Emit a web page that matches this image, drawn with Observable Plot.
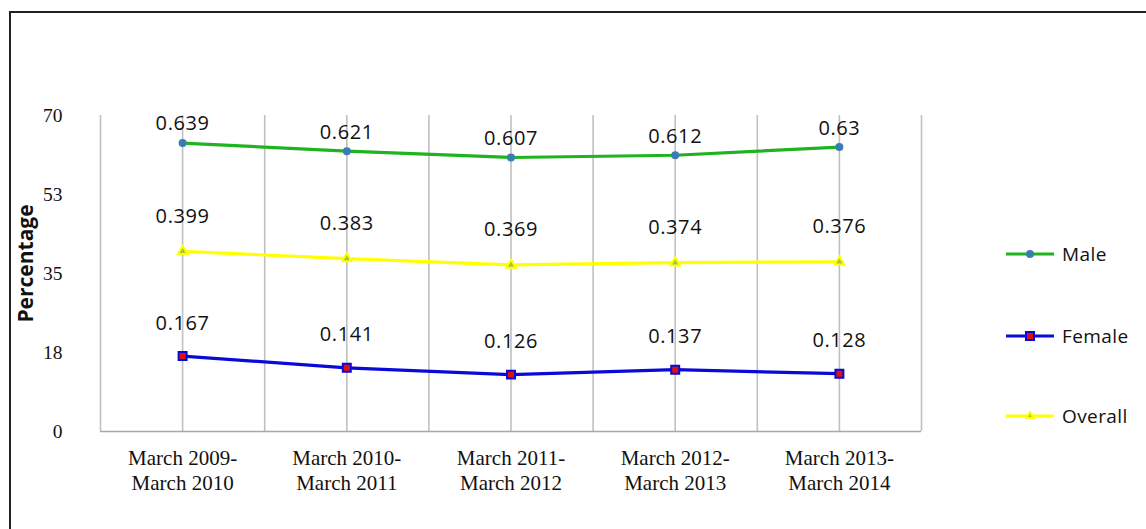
<!DOCTYPE html>
<html>
<head>
<meta charset="utf-8">
<script src="https://cdn.jsdelivr.net/npm/d3@7"></script>
<script src="https://cdn.jsdelivr.net/npm/@observablehq/plot@0.6"></script>
<style>
  html, body { margin: 0; padding: 0; background: #fff; }
  #wrap { position: relative; width: 1146px; height: 529px; overflow: hidden; }
  #frame { position: absolute; left: 9px; top: 11px; width: 1200px; height: 600px;
           border-top: 2px solid #222; border-left: 2px solid #222; pointer-events: none; }
  #legend { position: absolute; left: 1005px; top: 0; font-family: "Open Sans", sans-serif; font-size: 19px; color: #111; letter-spacing: 0.4px; }
  .item { position: absolute; left: 0; display: flex; align-items: center; white-space: nowrap; }
  .item svg { display: block; margin-right: 7px; }
  .lbl { letter-spacing: 0.6px; }
</style>
</head>
<body>
<div id="wrap"><div id="chart"></div><div id="frame"></div><div id="legend"></div></div>
<script>
const categories = ["March 2009-\nMarch 2010", "March 2010-\nMarch 2011", "March 2011-\nMarch 2012", "March 2012-\nMarch 2013", "March 2013-\nMarch 2014"];
const male = [0.639, 0.621, 0.607, 0.612, 0.63];
const female = [0.167, 0.141, 0.126, 0.137, 0.128];
const overall = [0.399, 0.383, 0.369, 0.374, 0.376];
const seriesNames = ["Male", "Female", "Overall"];
const yTicks = [0, 17.5, 35, 52.5, 70];
const yLabel = "Percentage";

const series = [
  {name: "Male", values: male, line: "#1fb41f", dot: {symbol: "circle", r: 4, fill: "#3a7db3", stroke: "none"}, dy: -19},
  {name: "Female", values: female, line: "#0a0ad8", dot: {symbol: "square", r: 4.5, fill: "#e01010", stroke: "#0a0ad8", strokeWidth: 2}, dy: -33},
  {name: "Overall", values: overall, line: "#ffff00", dot: {symbol: "triangle", r: 3.5, fill: "#9acd32", stroke: "#ffff00", strokeWidth: 2}, dy: -35}
];

const rows = series.map(s => s.values.map((v, i) => ({series: s.name, i, v, pct: v * 100})));
const gridX = d3.range(-0.5, categories.length, 0.5);

const marks = [
  Plot.ruleX(gridX, {stroke: "#c0c0c0", strokeWidth: 1.6}),
  Plot.ruleY([0], {stroke: "#a8a8a8", strokeWidth: 1.6}),
  Plot.axisY({ticks: yTicks, tickFormat: d => String(Math.round(d)), tickSize: 0, tickPadding: 38,
    fontSize: 19.5, fontFamily: "Liberation Serif, serif", fill: "#111", label: null}),
  Plot.axisX({ticks: d3.range(categories.length), tickFormat: i => categories[i], tickSize: 0, tickPadding: 16,
    fontSize: 21, lineHeight: 1.19, lineAnchor: "top", fontFamily: "Liberation Serif, serif", fill: "#111", label: null}),
  Plot.text([yLabel], {frameAnchor: "left", textAnchor: "middle", rotate: -90, dx: -74, dy: -10, fontSize: 21, fontWeight: "bold",
    fontFamily: "Open Sans, sans-serif", fill: "#111"})
];
series.forEach((s, k) => {
  const data = rows[k];
  marks.push(Plot.line(data, {x: "i", y: "pct", stroke: s.line, strokeWidth: 3.2}));
  marks.push(Plot.dot(data, {x: "i", y: "pct", ...s.dot}));
  marks.push(Plot.text(data, {x: "i", y: "pct", text: d => String(d.v), dy: s.dy, className: "lbl",
    fontSize: 20, fontFamily: "Open Sans, sans-serif", fill: "#111", lineAnchor: "middle"}));
});

const chart = Plot.plot({
  width: 1146, height: 529,
  marginLeft: 100, marginRight: 225, marginTop: 115, marginBottom: 98,
  style: {background: "transparent", overflow: "visible"},
  x: {type: "linear", domain: [-0.5, categories.length - 0.5], axis: null},
  y: {domain: [0, 70], axis: null},
  marks
});
document.getElementById("chart").appendChild(chart);

// legend
const legend = document.getElementById("legend");
const legendY = [254, 336, 416];
series.forEach((s, k) => {
  const div = document.createElement("div");
  div.className = "item";
  div.style.top = (legendY[k] - 14) + "px";
  const sym = s.dot.symbol;
  let marker = "";
  if (sym === "circle") marker = `<circle cx="25" cy="14" r="4" fill="${s.dot.fill}"/>`;
  else if (sym === "square") marker = `<rect x="21" y="10" width="8" height="8" fill="${s.dot.fill}" stroke="${s.dot.stroke}" stroke-width="2"/>`;
  else marker = `<path d="M25,10 L28.5,16 L21.5,16 Z" fill="${s.dot.fill}" stroke="${s.dot.stroke}" stroke-width="2"/>`;
  div.innerHTML = `<svg width="50" height="28"><line x1="1" x2="49" y1="14" y2="14" stroke="${s.line}" stroke-width="3.2"/>${marker}</svg><span>${seriesNames[k]}</span>`;
  legend.appendChild(div);
});
</script>
</body>
</html>
